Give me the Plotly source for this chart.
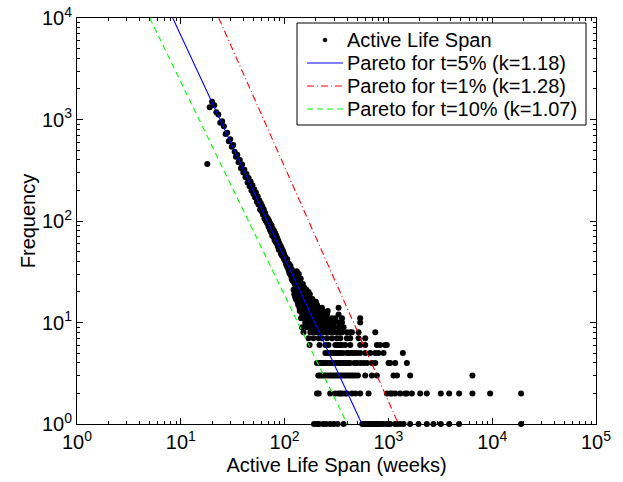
import plotly.graph_objects as go

# ---------------- data ----------------
weeks_dense = [20, 21, 22, 23, 24, 25, 26, 27, 28, 29, 30, 31, 32, 33, 34, 35, 36, 37, 38, 39,
               40, 41, 42, 43, 44, 45, 46, 47, 48, 49, 50, 51, 52, 53, 54, 55, 56, 57, 58, 59,
               60, 61, 62, 63, 64, 65, 66, 67, 68, 69, 70, 71, 72, 73, 74, 75, 76, 77, 78, 79,
               80, 81, 82, 83, 84, 85, 86, 87, 88, 89, 90, 91, 92, 93, 94, 95, 96, 97, 98, 99,
               100, 101, 102, 103, 104, 105, 106, 107, 108, 109, 110, 111, 112, 113, 114, 115,
               116, 117, 118, 119, 120, 121, 122, 123, 124, 125, 126, 127, 128, 129, 130]
freq_dense = [1500, 1380, 1180, 1120, 930, 960, 860, 720, 740, 610, 640, 540, 560, 480, 430, 450, 380, 400, 330, 360,
              300, 320, 270, 290, 240, 265, 220, 245, 200, 225, 185, 205, 170, 190, 155, 175, 145, 160, 130, 150,
              125, 140, 115, 130, 105, 120, 100, 110, 95, 105, 88, 100, 82, 94, 78, 90, 72, 84, 70, 80,
              65, 76, 62, 72, 60, 68, 56, 64, 52, 60, 54, 57, 48, 55, 46, 52, 45, 50, 43, 47,
              41, 41, 44, 38, 40, 36, 42, 35, 37, 33, 38, 31, 34, 30, 36, 29,
              32, 27, 33, 26, 30, 28, 31, 25, 27, 24, 29, 22, 26, 23, 25]

outlier_weeks = [18, 19]
outlier_freq = [365, 1320]

extra_weeks = [131, 134, 137, 140, 143, 146, 150, 155, 162, 170, 175, 185, 195]
extra_freq = [32, 28, 30, 25, 27, 23, 24, 22, 21, 20, 19, 17, 16]

weeks_f1 = [192, 205, 215, 235, 252, 275, 297, 324, 370, 560, 575, 590, 605, 620, 640, 655, 670, 690,
            710, 730, 755, 780, 810, 850, 897, 966, 1002, 1040, 1162, 1206, 1298, 1399, 1620, 1950,
            2345, 2717, 3200, 3850, 4790, 19000]
weeks_f2 = [205, 213, 275, 308, 331, 344, 360, 384, 398, 445, 480, 535, 644, 967, 1040, 1081, 1162,
            1298, 1451, 1506, 1683, 2024, 2345, 3200, 3850, 4800, 6450, 9550, 18970]
weeks_f3 = [211, 220, 230, 240, 250, 262, 275, 288, 300, 315, 330, 345, 360, 378, 395, 415, 435, 455,
            480, 509, 598, 693, 774, 1120, 1210, 1620, 6450]
weeks_f4 = [205, 215, 222, 232, 243, 255, 268, 280, 295, 310, 325, 340, 357, 375, 395, 412, 429, 470,
            500, 540, 580, 621, 693, 747, 1002, 1040, 1162, 1507]
weeks_f5 = [247, 260, 272, 285, 298, 312, 328, 344, 365, 398, 420, 445, 470, 497, 535, 598, 668, 747,
            804, 898, 1378]
weeks_f6 = [174, 217, 247, 265, 308, 320, 333, 345, 357, 384, 429, 535, 598, 774, 834, 931, 966]
weeks_f7 = [170, 190, 213, 229, 256, 286, 319, 344, 398, 429, 516, 598]
weeks_f8 = [152, 177, 183, 198, 205, 213, 221, 229, 240, 256, 275, 297, 319, 340, 357, 398, 429, 445,
            516, 747]
weeks_f9 = [147, 164, 175, 183, 197, 210, 221, 238, 250, 265, 280, 297, 331, 370]
weeks_f10 = [158, 170, 183, 197, 210, 221, 240, 256, 275, 297, 331, 357, 535]
weeks_f11 = [144, 158, 167, 177, 188, 197, 213, 229, 247, 256, 286, 308, 357, 535]
weeks_f12 = [148, 152, 164, 173, 183, 197, 221, 238, 256, 331]
weeks_f13 = [140, 150, 158, 168, 180, 192, 205, 230, 260]
weeks_f14 = [139, 145, 155, 163, 175, 197, 213, 229, 331]
weeks_f15 = [135, 143, 150, 160, 172, 185, 205]
weeks_f16 = [133, 141, 148, 153, 166, 180, 200]
weeks_f17 = [128, 136, 145, 150, 160, 178]
weeks_f18 = [126, 134, 142, 147, 156, 170]
weeks_f19 = [124, 132, 139, 144, 152]
weeks_f20 = [125, 131, 137, 146]
weeks_f21 = [122, 128, 133, 141]

tail_levels = [1, 2, 3, 4, 5, 6, 7, 8, 9, 10, 11, 12, 13, 14, 15, 16, 17, 18, 19, 20, 21]
tail_weeks = [weeks_f1, weeks_f2, weeks_f3, weeks_f4, weeks_f5, weeks_f6, weeks_f7, weeks_f8,
              weeks_f9, weeks_f10, weeks_f11, weeks_f12, weeks_f13, weeks_f14, weeks_f15,
              weeks_f16, weeks_f17, weeks_f18, weeks_f19, weeks_f20, weeks_f21]

# Pareto fit lines (visible end points)
scatter_name = "Active Life Span"
pareto_names = ["Pareto for t=5% (k=1.18)", "Pareto for t=1% (k=1.28)", "Pareto for t=10% (k=1.07)"]
pareto5_x = [8.36, 556]
pareto1_x = [23.2, 1250]
pareto10_x = [5.02, 401]
pareto_y = [1e4, 1]

x_ticks = [1, 10, 100, 1000, 10000, 100000]
x_ticktext = ["10<sup>0</sup>", "10<sup>1</sup>", "10<sup>2</sup>", "10<sup>3</sup>", "10<sup>4</sup>", "10<sup>5</sup>"]
y_ticks = [1, 10, 100, 1000, 10000]
y_ticktext = ["10<sup>0</sup>", "10<sup>1</sup>", "10<sup>2</sup>", "10<sup>3</sup>", "10<sup>4</sup>"]

# ---------------- build ----------------
all_x = list(weeks_dense) + list(outlier_weeks) + list(extra_weeks)
all_y = list(freq_dense) + list(outlier_freq) + list(extra_freq)
for lvl, ws in zip(tail_levels, tail_weeks):
    all_x += ws
    all_y += [lvl] * len(ws)

FONT = "Liberation Sans, Arial, Helvetica, sans-serif"
W, H = 623, 482
ML, MR, MT, MB = 77, 27, 18, 58
PW, PH = W - ML - MR, H - MT - MB

BLUE, RED, GREEN = "#0000ff", "#ff0000", "#00ff00"
RED_DASH, GREEN_DASH = "7px,3px,1px,3px", "6px,4px"

fig = go.Figure()
fig.add_trace(go.Scatter(x=all_x, y=all_y, mode="markers", name=scatter_name, cliponaxis=False,
                         marker=dict(color="black", size=6, line=dict(width=0))))
fig.add_trace(go.Scatter(x=pareto5_x, y=pareto_y, mode="lines", name=pareto_names[0],
                         line=dict(color=BLUE, width=1.1)))
fig.add_trace(go.Scatter(x=pareto1_x, y=pareto_y, mode="lines", name=pareto_names[1],
                         line=dict(color=RED, width=1.1, dash=RED_DASH)))
fig.add_trace(go.Scatter(x=pareto10_x, y=pareto_y, mode="lines", name=pareto_names[2],
                         line=dict(color=GREEN, width=1.1, dash=GREEN_DASH)))

minor_x = [m * 10 ** d for d in range(0, 5) for m in range(2, 10)]
minor_y = [m * 10 ** d for d in range(0, 4) for m in range(2, 10)]

axis_common = dict(type="log", showgrid=False, zeroline=False, showline=True, linecolor="black",
                   linewidth=1, mirror="allticks", ticks="inside", ticklen=6, tickcolor="black",
                   tickwidth=1, tickfont=dict(family=FONT, size=20, color="black"),
                   tickmode="array", automargin=False)

fig.update_xaxes(**axis_common, range=[0, 5], tickvals=x_ticks, ticktext=x_ticktext,
                 minor=dict(ticks="inside", ticklen=3, tickcolor="black", tickmode="array",
                            tickvals=minor_x, showgrid=False),
                 title=dict(text="Active Life Span (weeks)", font=dict(family=FONT, size=20, color="black"),
                            standoff=5))
fig.update_yaxes(**axis_common, range=[0, 4], tickvals=y_ticks, ticktext=y_ticktext,
                 minor=dict(ticks="inside", ticklen=3, tickcolor="black", tickmode="array",
                            tickvals=minor_y, showgrid=False),
                 title=dict(text="Frequency", font=dict(family=FONT, size=20, color="black"),
                            standoff=0))

# ---- legend box drawn in MATLAB style (pixel layout -> paper coords) ----
def px(xp):
    return (xp - ML) / PW

def py(yp):
    return (H - MB - yp) / PH

box_l, box_r, box_t, box_b = 297, 586, 23, 125
row_y = [40, 63, 86, 109]
samp_l, samp_r, text_x = 307, 343, 345

shapes = [dict(type="rect", xref="paper", yref="paper", x0=px(box_l), x1=px(box_r),
               y0=py(box_b), y1=py(box_t), fillcolor="white", line=dict(color="black", width=1),
               layer="above")]
shapes.append(dict(type="circle", xref="paper", yref="paper",
                   x0=px((samp_l + samp_r) / 2 - 2), x1=px((samp_l + samp_r) / 2 + 2),
                   y0=py(row_y[0] + 2), y1=py(row_y[0] - 2), fillcolor="black",
                   line=dict(color="black", width=0.5), layer="above"))
for r, col, dash in zip(row_y[1:], [BLUE, RED, GREEN], ["solid", RED_DASH, GREEN_DASH]):
    shapes.append(dict(type="line", xref="paper", yref="paper", x0=px(samp_l), x1=px(samp_r),
                       y0=py(r), y1=py(r), line=dict(color=col, width=1.1, dash=dash), layer="above"))

annotations = []
for r, label in zip(row_y, [scatter_name] + pareto_names):
    annotations.append(dict(xref="paper", yref="paper", x=px(text_x), y=py(r), text=label,
                            showarrow=False, xanchor="left", yanchor="middle",
                            font=dict(family=FONT, size=20, color="black")))

fig.update_layout(width=W, height=H, margin=dict(l=ML, r=MR, t=MT, b=MB),
                  paper_bgcolor="white", plot_bgcolor="white",
                  font=dict(family=FONT, size=20, color="black"),
                  showlegend=False, shapes=shapes, annotations=annotations)

fig.write_html("out.html")
